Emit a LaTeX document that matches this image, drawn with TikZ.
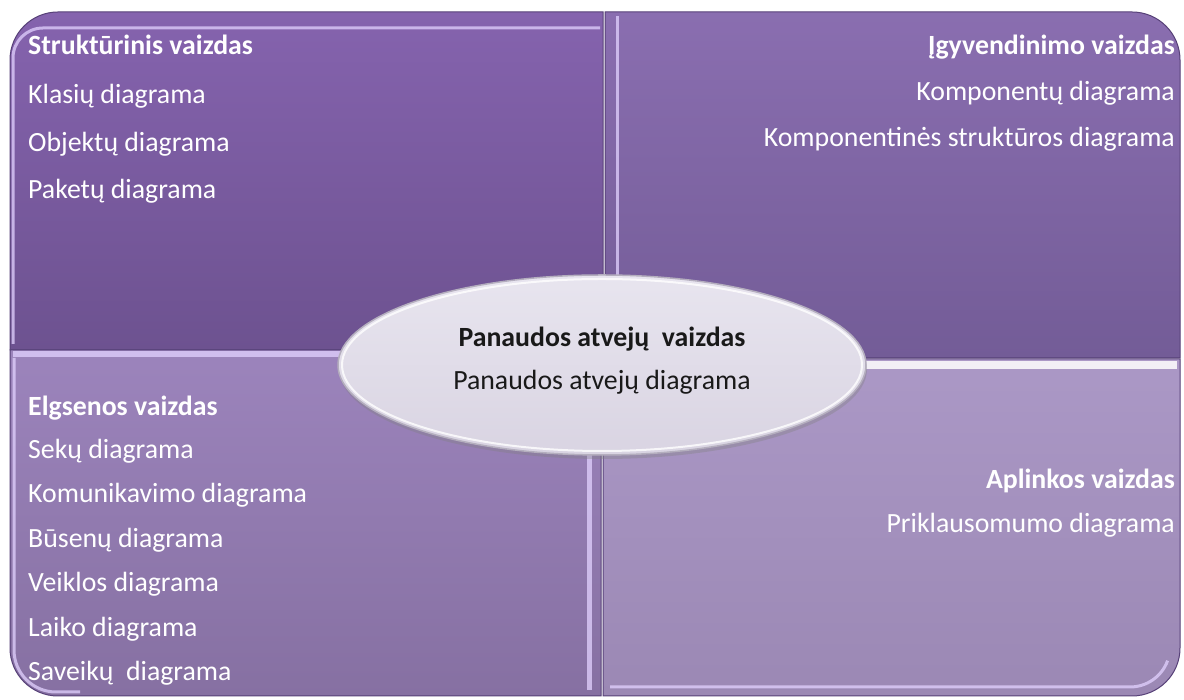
\documentclass[tikz,border=0pt]{standalone}
\usepackage{fontspec}
\setmainfont{Carlito}
\usetikzlibrary{shadows}

% panel colours (top / bottom of each gradient)
\definecolor{tlTop}{HTML}{8563AE}
\definecolor{tlBot}{HTML}{6D5290}
\definecolor{trTop}{HTML}{8A6EB0}
\definecolor{trBot}{HTML}{735C97}
\definecolor{blTop}{HTML}{9C84BC}
\definecolor{blBot}{HTML}{8670A2}
\definecolor{brTop}{HTML}{AB98C6}
\definecolor{brBot}{HTML}{9B88B4}
\definecolor{panelEdge}{HTML}{574178}
\definecolor{bevelLight}{HTML}{E2D2FF}
\definecolor{ellTop}{HTML}{E8E5EF}
\definecolor{ellBot}{HTML}{D9D4E2}
\definecolor{ellRim}{HTML}{B4AEBE}

\begin{document}
\begin{tikzpicture}[x=1pt,y=1pt,
  panel/.style={draw=panelEdge, line width=1},
  bevel/.style={draw=bevelLight, line width=3, opacity=0.75},
  txt/.style={text=white, font=\fontsize{27.8}{28}\selectfont, inner sep=0pt},
  itemL/.style={txt, anchor=base west},
  itemR/.style={txt, anchor=base east},
  headL/.style={itemL, font=\fontsize{27.8}{28}\selectfont\bfseries},
  headR/.style={itemR, font=\fontsize{27.8}{28}\selectfont\bfseries},
  ctext/.style={text=black!90, inner sep=0pt, anchor=base, font=\fontsize{27.8}{28}\selectfont}
]
\useasboundingbox (0,0) rectangle (1184,700);
\fill[white] (0,0) rectangle (1184,700);

% ---- structural view (top left) ----
\shade[top color=tlTop, bottom color=tlBot]
  (10,350) -- (10,640) arc[start angle=180,end angle=90,radius=48] -- (603,688) -- (603,350) -- cycle;
\draw[panel]
  (10,350) -- (10,640) arc[start angle=180,end angle=90,radius=48] -- (603,688) -- (603,350) -- cycle;
\draw[bevel] (13,356) -- (13,642) arc[start angle=180,end angle=90,radius=30] -- (600,672);

% ---- implementation view (top right) ----
\shade[top color=trTop, bottom color=trBot]
  (605,342) -- (605,688) -- (1132,688) arc[start angle=90,end angle=0,radius=48] -- (1180,342) -- cycle;
\draw[panel]
  (605,342) -- (605,688) -- (1132,688) arc[start angle=90,end angle=0,radius=48] -- (1180,342) -- cycle;
\draw[bevel] (617,346) -- (617,684);

% ---- behaviour view (bottom left) ----
\shade[top color=blTop, bottom color=blBot]
  (10,350) -- (601,350) -- (601,4) -- (58,4) arc[start angle=270,end angle=180,radius=48] -- cycle;
\draw[panel]
  (10,350) -- (601,350) -- (601,4) -- (58,4) arc[start angle=270,end angle=180,radius=48] -- cycle;
\draw[bevel, line width=6] (13,346) -- (598,346);
\draw[bevel] (14,342) -- (14,50) arc[start angle=180,end angle=270,radius=42] -- (80,8);
\draw[bevel, line width=5] (589,342) -- (589,10);

% ---- deployment view (bottom right) ----
\shade[top color=brTop, bottom color=brBot]
  (603,341) -- (1180,341) -- (1180,52) arc[start angle=0,end angle=-90,radius=48] -- (603,4) -- cycle;
\draw[panel]
  (603,341) -- (1180,341) -- (1180,52) arc[start angle=0,end angle=-90,radius=48] -- (603,4) -- cycle;
\draw[draw=white, line width=8, opacity=0.85] (606,335) -- (1177,335);
\draw[bevel] (610,13) -- (1130,13) arc[start angle=-90,end angle=-20,radius=40];

% ---- texts of the four views ----
\node[headL] (s0) at (28,645) {Struktūrinis vaizdas};
\node[itemL] (s1) at (28,596) {Klasių diagrama};
\node[itemL] (s2) at (28,548) {Objektų diagrama};
\node[itemL] (s3) at (28,501) {Paketų diagrama};

\node[headR] (i0) at (1175,645) {Įgyvendinimo vaizdas};
\node[itemR] (i1) at (1175,599) {Komponentų diagrama};
\node[itemR] (i2) at (1175,553) {Komponentinės struktūros diagrama};

\node[headL] (b0) at (28,284) {Elgsenos vaizdas};
\node[itemL] (b1) at (28,241) {Sekų diagrama};
\node[itemL] (b2) at (28,197) {Komunikavimo diagrama};
\node[itemL] (b3) at (28,152) {Būsenų diagrama};
\node[itemL] (b4) at (28,108) {Veiklos diagrama};
\node[itemL] (b5) at (28,63) {Laiko diagrama};
\node[itemL] (b6) at (28,19) {Saveikų\ \ diagrama};

\node[headR] (d0) at (1175,211) {Aplinkos vaizdas};
\node[itemR] (d1) at (1175,167) {Priklausomumo diagrama};

% ---- use case view (centre ellipse) ----
\path[drop shadow={opacity=0.35, shadow xshift=1pt, shadow yshift=-4pt},
      top color=ellTop, bottom color=ellBot, draw=ellRim, line width=1.5]
  (602,335) ellipse [x radius=264, y radius=90];
\draw[white, line width=2, opacity=0.8] (602,335) ellipse [x radius=260, y radius=86];
\node[ctext, font=\fontsize{27.8}{28}\selectfont\bfseries] (u0) at (602,353) {Panaudos atvejų\ \ vaizdas};
\node[ctext] (u1) at (602,310) {Panaudos atvejų diagrama};
\end{tikzpicture}
\end{document}
